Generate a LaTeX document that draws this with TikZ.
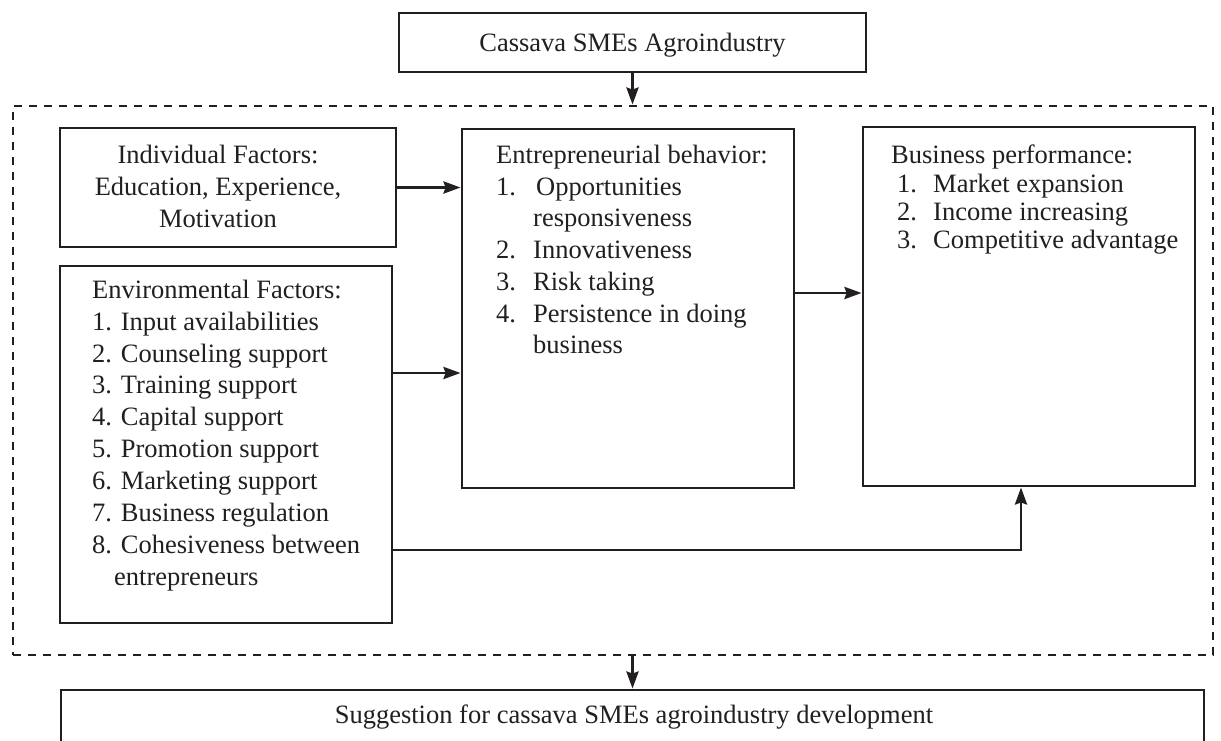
\documentclass[tikz,border=0pt]{standalone}
\usepackage{fontspec}
\setmainfont{Liberation Serif}
\usetikzlibrary{arrows.meta,calc}
\definecolor{ink}{RGB}{35,31,32}
\begin{document}
\begin{tikzpicture}[x=1pt,y=-1pt,
  box/.style={draw=ink, line width=2.9pt, rectangle, inner sep=0pt},
  frm/.style={draw=ink, line width=2.9pt, dash pattern=on 8pt off 7pt, rectangle, inner sep=0pt},
  arr/.style={draw=ink, line width=2.9pt, -{Stealth[length=17pt,width=12pt,inset=2pt]}},
  lab/.style={font=\fontsize{26.5}{32}\selectfont, inner sep=0pt, anchor=base west, text=ink},
  labc/.style={lab, anchor=base}]
\useasboundingbox (0,0) rectangle (1221,740);
\clip (0,0) rectangle (1221,740);
\fill[white] (0,0) rectangle (1221,740);

% boxes
\node[box, minimum width=467pt, minimum height=59pt] (top) at (632.5,42.5) {};
\node[frm, minimum width=1200pt, minimum height=549pt] (frame) at (613,380.5) {};
\node[box, minimum width=336pt, minimum height=119pt] (ind) at (228,187.5) {};
\node[box, minimum width=332pt, minimum height=357pt] (env) at (226,444.5) {};
\node[box, minimum width=332pt, minimum height=359pt] (ent) at (628,308.5) {};
\node[box, minimum width=332pt, minimum height=359pt] (bus) at (1029,306.5) {};
\node[box, minimum width=1143pt, minimum height=90pt] (sug) at (632.5,735) {};

% connectors
\coordinate (c1) at (0,373);
\coordinate (c2) at (0,293);
\coordinate (c3) at (1021,550);
\draw[arr] (top.south) -- (top.south |- frame.north);
\draw[arr] (ind.east) -- (ind.east -| ent.west);
\draw[arr] (env.east |- c1) -- (ent.west |- c1);
\draw[arr] (ent.east |- c2) -- (bus.west |- c2);
\draw[arr] (env.east |- c3) -- (c3) -- (c3 |- bus.south);
\draw[arr] (frame.south -| sug.north) -- (sug.north);

% texts
\node[labc] (t0) at (632.5,51) {Cassava SMEs Agroindustry};

\node[labc] (i1) at (218,163) {Individual Factors:};
\node[labc] (i2) at (218,195) {Education, Experience,};
\node[labc] (i3) at (218,227) {Motivation};

\node[lab] (v0) at (92,298) {Environmental Factors:};
\node[lab] (v1) at (92,330) {1. Input availabilities};
\node[lab] (v2) at (92,362) {2. Counseling support};
\node[lab] (v3) at (92,393) {3. Training support};
\node[lab] (v4) at (92,425) {4. Capital support};
\node[lab] (v5) at (92,457) {5. Promotion support};
\node[lab] (v6) at (92,489) {6. Marketing support};
\node[lab] (v7) at (92,521) {7. Business regulation};
\node[lab] (v8) at (92,553) {8. Cohesiveness between};
\node[lab] (v9) at (114,585) {entrepreneurs};

\node[lab] (e0) at (496,163) {Entrepreneurial behavior:};
\node[lab] (e1n) at (496,195) {1.};
\node[lab] (e1) at (536,195) {Opportunities};
\node[lab] (e1b) at (533,226) {responsiveness};
\node[lab] (e2n) at (496,258) {2.};
\node[lab] (e2) at (533,258) {Innovativeness};
\node[lab] (e3n) at (496,290) {3.};
\node[lab] (e3) at (533,290) {Risk taking};
\node[lab] (e4n) at (496,322) {4.};
\node[lab] (e4) at (533,322) {Persistence in doing};
\node[lab] (e4b) at (533,353) {business};

\node[lab] (b0) at (891,163) {Business performance:};
\node[lab] (b1n) at (897,192) {1.};
\node[lab] (b1) at (933,192) {Market expansion};
\node[lab] (b2n) at (897,220) {2.};
\node[lab] (b2) at (933,220) {Income increasing};
\node[lab] (b3n) at (897,248) {3.};
\node[lab] (b3) at (933,248) {Competitive advantage};

\node[labc] (s0) at (634,723) {Suggestion for cassava SMEs agroindustry development};
\end{tikzpicture}
\end{document}
